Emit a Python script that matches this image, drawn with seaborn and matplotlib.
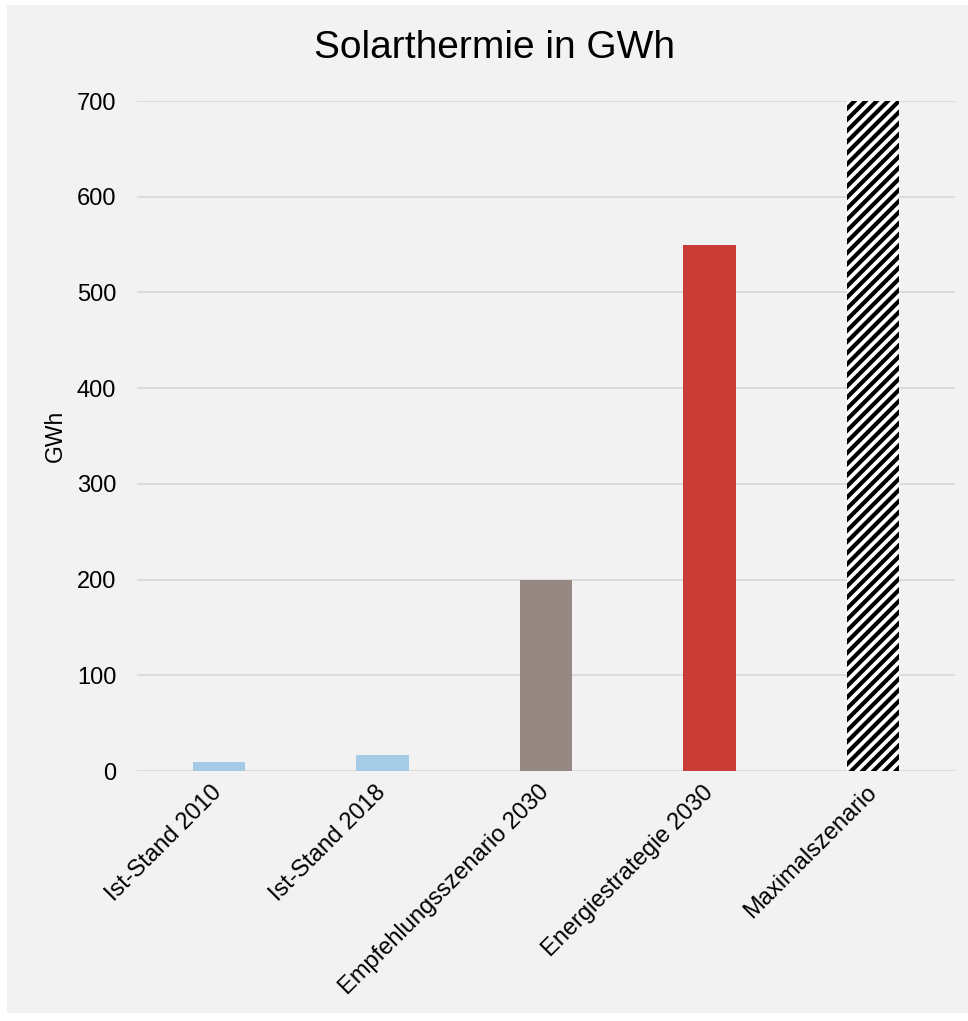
import pandas as pd
import matplotlib
matplotlib.use('Agg')
import matplotlib.pyplot as plt
from matplotlib.patches import Rectangle
import seaborn as sns

categories = ['Ist-Stand 2010', 'Ist-Stand 2018', 'Empfehlungsszenario 2030',
              'Energiestrategie 2030', 'Maximalszenario']
values = [9, 17, 200, 550, 700]
bar_colors = ['#a5cbe6', '#a5cbe6', '#968983', '#c83c35', '#ffffff']
y_ticks = [0, 100, 200, 300, 400, 500, 600, 700]

df = pd.DataFrame({'Szenario': categories, 'GWh': values})

sns.set_style('white')
plt.rcParams['font.family'] = ['Liberation Sans', 'DejaVu Sans']
plt.rcParams['text.color'] = 'black'
plt.rcParams['xtick.color'] = 'black'
plt.rcParams['ytick.color'] = 'black'
plt.rcParams['axes.labelcolor'] = 'black'
plt.rcParams['hatch.linewidth'] = 3.0

bg = '#f2f2f2'
fig = plt.figure(figsize=(9.68, 10.21), dpi=100, facecolor='white')
fig.patches.append(Rectangle((7 / 968, 8 / 1021), 1 - 7 / 968, 1 - 13 / 1021,
                             transform=fig.transFigure, facecolor=bg,
                             edgecolor='none', zorder=-10))

ax = fig.add_axes([137 / 968, 1 - 771 / 1021, 818 / 968, 670 / 1021])
ax.set_facecolor(bg)

sns.barplot(data=df, x='Szenario', y='GWh', hue='Szenario', palette=bar_colors,
            width=0.32, legend=False, ax=ax, saturation=1, zorder=3,
            linewidth=0)

# Maximalszenario: schraffiert
last = ax.patches[-1]
last.set_facecolor('white')
last.set_edgecolor('black')
last.set_linewidth(0)
last.set_hatch('///')

ax.set_ylim(0, 700)
ax.set_xlim(-0.5, 4.5)
ax.set_yticks(y_ticks)
ax.yaxis.grid(True, color='#d9d9d9', linewidth=1.3, zorder=0)
ax.set_axisbelow(True)
for s in ax.spines.values():
    s.set_visible(False)

ax.tick_params(axis='y', length=0, pad=15, labelsize=17)
ax.tick_params(axis='x', length=0, pad=13, labelsize=17)
plt.setp(ax.get_xticklabels(), rotation=45, ha='right', va='center',
         rotation_mode='anchor')

ax.set_xlabel('')
ax.set_ylabel('GWh', fontsize=16.5)
ax.yaxis.set_label_coords(-0.086, 0.5)

fig.text(494 / 968, 1 - 48 / 1021, 'Solarthermie in GWh', fontsize=28,
         ha='center', va='center')

fig.savefig('out.png', dpi=100, facecolor=fig.get_facecolor())
